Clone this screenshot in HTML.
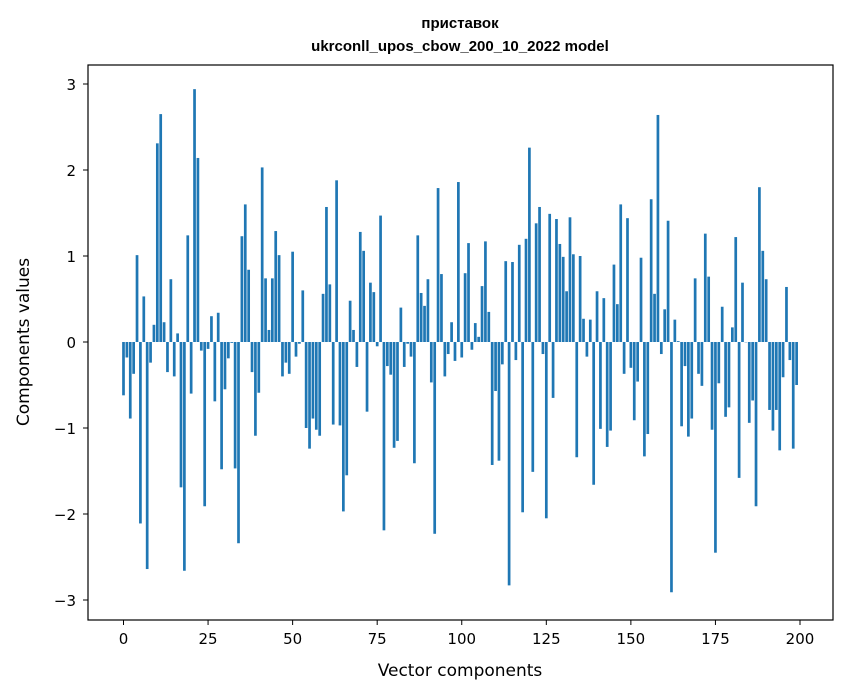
<!DOCTYPE html>
<html><head><meta charset="utf-8"><style>
html,body{margin:0;padding:0;background:#fff;}
svg{display:block;font-family:"DejaVu Sans","Liberation Sans",sans-serif;}
</style></head><body>
<svg id="chart" width="847" height="696" viewBox="0 0 847 696" xmlns="http://www.w3.org/2000/svg">
<rect width="847" height="696" fill="#fff"/>
<text x="460" y="28" text-anchor="middle" font-size="15" font-weight="bold" font-family="Liberation Sans, sans-serif">приставок</text>
<text x="460" y="51" text-anchor="middle" font-size="15" font-weight="bold" font-family="Liberation Sans, sans-serif">ukrconll_upos_cbow_200_10_2022 model</text>
<g id="bars"></g>
<g id="xticks"></g>
<g id="yticks"></g>
<rect x="88" y="65" width="745" height="555" fill="none" stroke="#000" stroke-width="1.2"/>
<text x="460" y="676" text-anchor="middle" font-size="17">Vector components</text>
<text x="0" y="0" transform="translate(29,342) rotate(-90)" text-anchor="middle" font-size="17">Components values</text>
</svg>
<script>
const values = [-0.62,-0.18,-0.89,-0.37,1.01,-2.11,0.53,-2.64,-0.24,0.2,2.31,2.65,0.23,-0.35,0.73,-0.4,0.1,-1.69,-2.66,1.24,
-0.6,2.94,2.14,-0.1,-1.91,-0.08,0.3,-0.69,0.34,-1.48,-0.55,-0.19,-0.01,-1.47,-2.34,1.23,1.6,0.84,-0.35,-1.09,
-0.59,2.03,0.74,0.14,0.74,1.29,1.01,-0.4,-0.24,-0.37,1.05,-0.17,-0.02,0.6,-1.0,-1.24,-0.89,-1.02,-1.09,0.56,
1.57,0.67,-0.96,1.88,-0.97,-1.97,-1.55,0.48,0.14,-0.29,1.28,1.06,-0.81,0.69,0.58,-0.05,1.47,-2.19,-0.28,-0.38,
-1.23,-1.15,0.4,-0.29,-0.02,-0.17,-1.41,1.24,0.57,0.42,0.73,-0.47,-2.23,1.79,0.79,-0.4,-0.14,0.23,-0.22,1.86,
-0.18,0.8,1.15,-0.09,0.22,0.06,0.65,1.17,0.35,-1.43,-0.57,-1.38,-0.26,0.94,-2.83,0.93,-0.21,1.13,-1.98,1.2,
2.26,-1.51,1.38,1.57,-0.14,-2.05,1.49,-0.65,1.43,1.14,0.99,0.59,1.45,1.02,-1.34,1.0,0.27,-0.17,0.26,-1.66,
0.59,-1.01,0.51,-1.22,-1.03,0.9,0.44,1.6,-0.37,1.44,-0.3,-0.91,-0.46,0.98,-1.33,-1.07,1.66,0.56,2.64,-0.14,
0.38,1.41,-2.91,0.26,0.01,-0.98,-0.28,-1.1,-0.89,0.74,-0.37,-0.51,1.26,0.76,-1.02,-2.45,-0.48,0.41,-0.87,-0.76,
0.17,1.22,-1.58,0.69,0.0,-0.94,-0.68,-1.91,1.8,1.06,0.73,-0.79,-1.03,-0.79,-1.26,-0.41,0.64,-0.21,-1.24,-0.5];
const xTickValues = [0,25,50,75,100,125,150,175,200];
const yTickValues = [-3,-2,-1,0,1,2,3];
const yTickLabels = ["\u22123","\u22122","\u22121","0","1","2","3"];
const NS = "http://www.w3.org/2000/svg";
function xScale(v){ return 123.5 + (v/200)*676.5; }
function yScale(v){ return 342 - v*86; }
const bars = document.getElementById('bars');
values.forEach(function(v,i){
  const r = document.createElementNS(NS,'rect');
  const x0 = xScale(i-0.4), x1 = xScale(i+0.4);
  const y0 = yScale(Math.max(v,0)), y1 = yScale(Math.min(v,0));
  r.setAttribute('x', x0); r.setAttribute('width', x1-x0);
  r.setAttribute('y', y0); r.setAttribute('height', Math.max(y1-y0,0.3));
  r.setAttribute('fill','#1f77b4');
  
  
  bars.appendChild(r);
});
const xt = document.getElementById('xticks');
xTickValues.forEach(function(v){
  const x = xScale(v);
  const l = document.createElementNS(NS,'line');
  l.setAttribute('x1',x); l.setAttribute('x2',x); l.setAttribute('y1',620); l.setAttribute('y2',625);
  l.setAttribute('stroke','#000');
  
  
  xt.appendChild(l);
  const t = document.createElementNS(NS,'text');
  t.setAttribute('x',x); t.setAttribute('y',644); t.setAttribute('text-anchor','middle'); t.setAttribute('font-size','15');
  t.textContent = String(v);
  
  
  xt.appendChild(t);
});
const yt = document.getElementById('yticks');
yTickValues.forEach(function(v,i){
  const y = yScale(v);
  const l = document.createElementNS(NS,'line');
  l.setAttribute('x1',83); l.setAttribute('x2',88); l.setAttribute('y1',y); l.setAttribute('y2',y);
  l.setAttribute('stroke','#000');
  
  
  yt.appendChild(l);
  const t = document.createElementNS(NS,'text');
  t.setAttribute('x',76); t.setAttribute('y',y+6); t.setAttribute('text-anchor','end'); t.setAttribute('font-size','15');
  t.textContent = yTickLabels[i];
  
  
  yt.appendChild(t);
});
</script>
</body></html>
